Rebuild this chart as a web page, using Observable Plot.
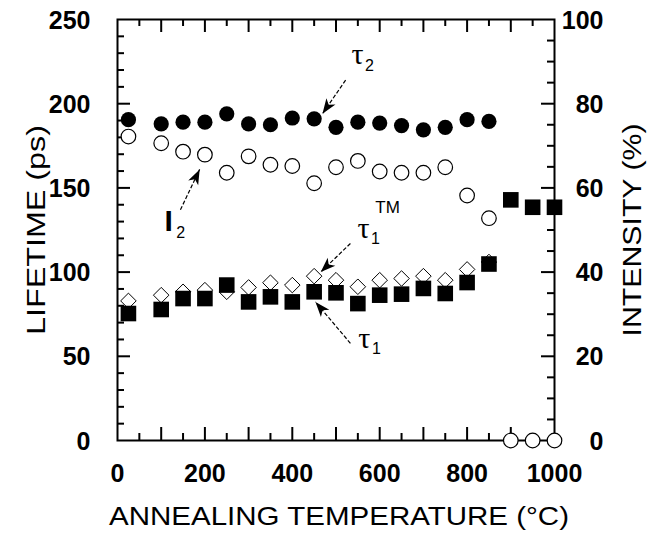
<!DOCTYPE html>
<html><head><meta charset="utf-8">
<script src="https://cdn.jsdelivr.net/npm/d3@7"></script>
<script src="https://cdn.jsdelivr.net/npm/@observablehq/plot@0.6"></script>
<style>body{margin:0;background:#fff;}</style>
</head><body><div id="chart"></div>
<script>
// ---- data ----
const tempsA = [25,100,150,200,250,300,350,400,450,500,550,600,650,700,750,800,850];
const tempsB = [25,100,150,200,250,300,350,400,450,500,550,600,650,700,750,800,850,900,950,1000];
const tau2   = [190.5,188,189,189,194,188,187.5,191.5,191,186,189,188.5,187,184.5,186,190.5,189.5];
const tau1TM = [82.9,86.3,88.3,89.3,88.3,90.9,93.7,92.3,97.6,95.2,91.3,95.2,96.2,97.6,95.2,101.6,106];
const tau1   = [75.4,77.8,84.3,84.3,92.3,82.3,85.3,82.3,88.3,87.7,81.3,86.3,86.9,90.3,87.3,93.8,104.8,142.9,138.5,138.5];
const intensityI2 = [72.2,70.6,68.6,67.9,63.6,67.5,65.5,65.2,61.1,64.9,66.4,63.9,63.6,63.6,64.9,58.2,52.8,0,0,0];

const lifetimeTicks  = [0,50,100,150,200,250];
const intensityTicks = [0,20,40,60,80,100];
const tempTicks      = [0,200,400,600,800,1000];

const xTitle  = "ANNEALING TEMPERATURE (°C)";
const yTitle  = "LIFETIME (ps)";
const y2Title = "INTENSITY (%)";

// annotation labels (main glyph position, in temperature / lifetime units)
const labelNames = ["tau2","I2","tau1TM","tau1"];
const labelMain  = ["τ","I","τ","τ"];
const labelSub   = ["2","2","1","1"];
const labelSup   = ["","","TM",""];
const labelX     = [549,117,563,565];
const labelY     = [229,130,126,60.7];
// arrows (tail -> head), same units
const arrowX1 = [522,144,533,533];
const arrowY1 = [214,137,117,57.7];
const arrowX2 = [469,188,465,453];
const arrowY2 = [194,161,100,82.3];

// ---- layout ----
const W = 661, H = 536;
const mL = 117, mR = 107, mT = 19, mB = 96;
const frameW = W - mL - mR, frameH = H - mT - mB;
const xMax = 1000, yMax = 250, intMax = 100, k = yMax / intMax;
const ink = "black";

const rowsA = tempsA.map((t,i)=>({t, tau2: tau2[i], tau1TM: tau1TM[i]}));
const rowsB = tempsB.map((t,i)=>({t, tau1: tau1[i], I2: intensityI2[i]}));
const labels = labelNames.map((n,i)=>({n, main: labelMain[i], sub: labelSub[i], sup: labelSup[i], x: labelX[i], y: labelY[i]}));
const arrows = labelNames.map((n,i)=>({x1: arrowX1[i], y1: arrowY1[i], x2: arrowX2[i], y2: arrowY2[i]}));

const kx = frameW / xMax, ky = frameH / yMax;
const angle = a => Math.atan2((a.x2-a.x1)*kx, (a.y2-a.y1)*ky) * 180 / Math.PI;
const arrowHead = { draw(ctx) { ctx.moveTo(0,0); ctx.lineTo(-5.5,15); ctx.lineTo(0,11); ctx.lineTo(5.5,15); ctx.closePath(); } };

const lifeMinor = d3.range(10, 250, 10).filter(v => v % 50 !== 0);
const lifeMajor = [50,100,150,200];
const intMinor = d3.range(5, 100, 5).filter(v => v % 20 !== 0);
const intMajor = [20,40,60,80];
const tMinor = d3.range(50, 1000, 100);
const tMajor = d3.range(100, 1000, 100);

const tickW = 2, minorL = 7, majorL = 13;
const labelFont = 25;
const tk = {stroke: ink, strokeWidth: tickW};

const chart = Plot.plot({
  width: W, height: H,
  marginLeft: mL, marginRight: mR, marginTop: mT, marginBottom: mB,
  x: {domain: [0, xMax], axis: null},
  y: {domain: [0, yMax], axis: null},
  style: {fontFamily: "'Liberation Sans', Arial, Helvetica, sans-serif", background: "white"},
  marks: [
    // inward ticks on all four sides
    Plot.tickY(lifeMinor, {y: d=>d, insetRight: frameW - minorL, ...tk}),
    Plot.tickY(lifeMajor, {y: d=>d, insetRight: frameW - majorL, ...tk}),
    Plot.tickY(intMinor, {y: d=>d*k, insetLeft: frameW - minorL, ...tk}),
    Plot.tickY(intMajor, {y: d=>d*k, insetLeft: frameW - majorL, ...tk}),
    Plot.tickX(tMinor, {x: d=>d, insetBottom: frameH - minorL, ...tk}),
    Plot.tickX(tMajor, {x: d=>d, insetBottom: frameH - majorL, ...tk}),
    Plot.tickX(tMinor, {x: d=>d, insetTop: frameH - minorL, ...tk}),
    Plot.tickX(tMajor, {x: d=>d, insetTop: frameH - majorL, ...tk}),
    Plot.frame({stroke: ink, strokeWidth: 2}),
    // tick labels
    Plot.text(lifetimeTicks, {y: d=>d, text: d=>String(d), frameAnchor: "left", dx: -27, dy: 1, textAnchor: "end", lineAnchor: "middle", fontSize: labelFont, fontWeight: "bold", fill: ink}),
    Plot.text(intensityTicks, {y: d=>d*k, text: d=>String(d), frameAnchor: "right", dx: 49, dy: 1, textAnchor: "end", lineAnchor: "middle", fontSize: labelFont, fontWeight: "bold", fill: ink}),
    Plot.text(tempTicks, {x: d=>d, text: d=>String(d), frameAnchor: "bottom", dy: 33, textAnchor: "middle", lineAnchor: "middle", fontSize: labelFont, fontWeight: "bold", fill: ink}),
    // axis titles
    Plot.text([yTitle], {text: d=>d, frameAnchor: "left", dx: -81, rotate: -90, textAnchor: "middle", lineAnchor: "middle", fontSize: 25, fill: ink, className: "ytitle"}),
    Plot.text([y2Title], {text: d=>d, frameAnchor: "right", dx: 78, rotate: -90, textAnchor: "middle", lineAnchor: "middle", fontSize: 25, fill: ink, className: "y2title"}),
    Plot.text([xTitle], {text: d=>d, frameAnchor: "bottom", dx: 3, dy: 76, textAnchor: "middle", lineAnchor: "middle", fontSize: 26, fill: ink, className: "xtitle"}),
    // data
    Plot.dot(rowsA, {x: "t", y: "tau1TM", symbol: "diamond2", r: 7, fill: "white", stroke: ink, strokeWidth: 1}),
    Plot.dot(rowsB, {x: "t", y: "tau1", symbol: "square", r: 8.8, fill: ink, stroke: "none"}),
    Plot.dot(rowsB, {x: "t", y: d=>d.I2*k, r: 7.3, fill: "white", stroke: ink, strokeWidth: 1.2}),
    Plot.dot(rowsA, {x: "t", y: "tau2", r: 7.6, fill: ink, stroke: "none"}),
    // annotations
    Plot.link(arrows, {x1: "x1", y1: "y1", x2: "x2", y2: "y2", stroke: ink, strokeWidth: 1.2, strokeDasharray: "4,2"}),
    Plot.dot(arrows, {x: "x2", y: "y2", symbol: arrowHead, rotate: angle, fill: ink, stroke: "none"}),
    Plot.text(labels.filter(d=>d.main==="τ"), {x: "x", y: "y", text: "main", fontSize: 30, fill: ink, fontFamily: "'Liberation Serif', 'DejaVu Serif', serif"}),
    Plot.text(labels.filter(d=>d.main!=="τ"), {x: "x", y: "y", text: "main", fontSize: 30, fontWeight: "bold", fill: ink}),
    Plot.text(labels, {x: "x", y: "y", text: "sub", dx: 12, dy: 11, fontSize: 16, fill: ink}),
    Plot.text(labels, {x: "x", y: "y", text: "sup", dx: 24, dy: -21, fontSize: 17, fill: ink})
  ]
});
// stretch the axis titles to the widths they take in the reference (wide glyphs)
const fit = (cls, len) => chart.querySelectorAll(`.${cls} text`).forEach(t => { t.setAttribute("textLength", len); t.setAttribute("lengthAdjust", "spacingAndGlyphs"); });
fit("ytitle", 210); fit("y2title", 213); fit("xtitle", 460);
document.getElementById("chart").appendChild(chart);
</script>
</body></html>
